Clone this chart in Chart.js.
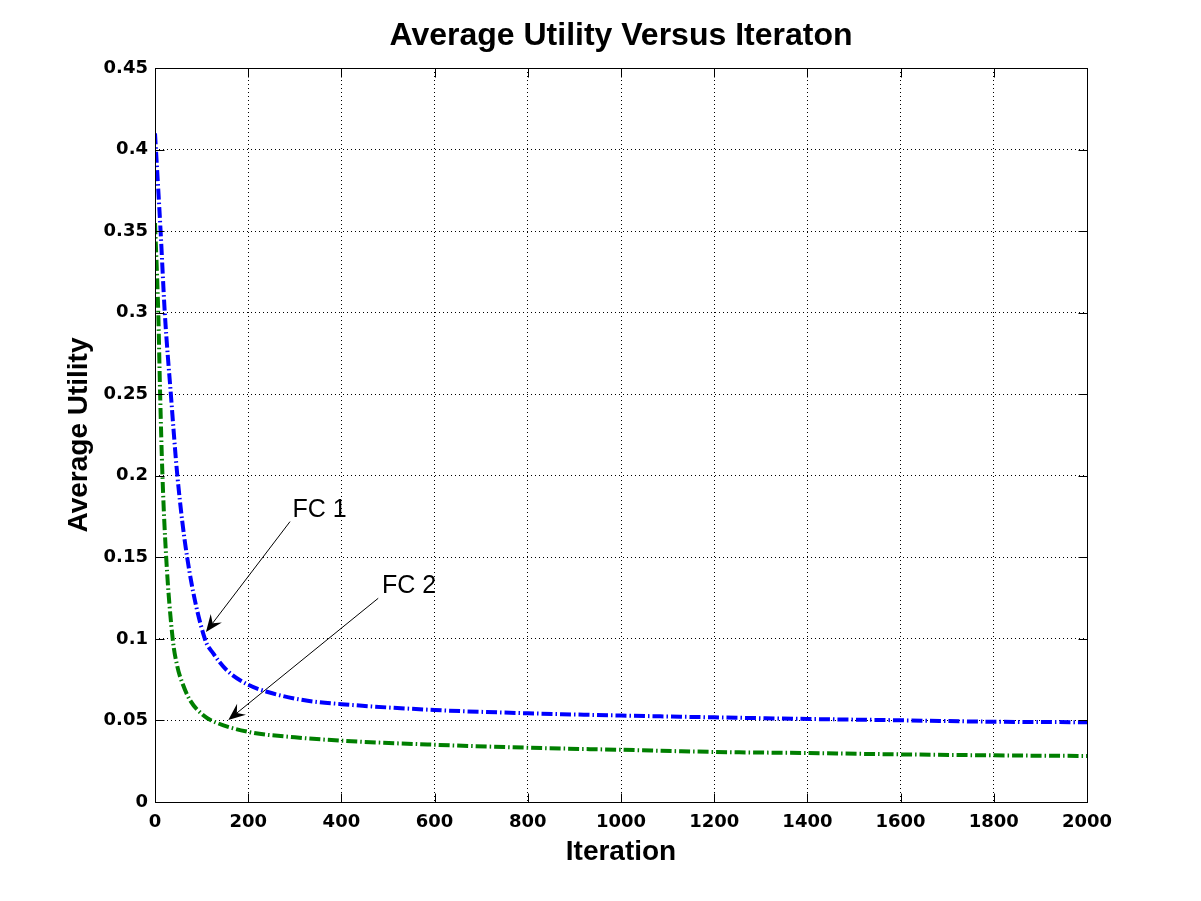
<!DOCTYPE html>
<html>
<head>
<meta charset="utf-8">
<script src="https://cdn.jsdelivr.net/npm/chart.js@4.4.1/dist/chart.umd.min.js"></script>
<style>
  html, body { margin: 0; padding: 0; background: #fff; }
  #wrap { width: 1201px; height: 901px; }
</style>
</head>
<body>
<div id="wrap"><canvas id="graph_ID" width="1201" height="901"></canvas></div>
<script>
// values
var iterFC1 = [0, 12, 21, 34, 48, 69, 107, 125, 155, 197, 240, 318, 400, 600, 800, 1000, 1200, 1400, 1600, 1800, 2000];
var utilFC1 = [0.41, 0.35, 0.30, 0.25, 0.20, 0.15, 0.10, 0.0911, 0.0805, 0.0723, 0.0676, 0.0625, 0.060, 0.0564, 0.0544, 0.053, 0.0519, 0.0509, 0.0501, 0.0492, 0.0489];

var iterFC2 = [0, 7, 11, 16, 24, 38, 48, 59, 75, 103, 121, 200, 300, 400, 600, 800, 1000, 1200, 1400, 1600, 1800, 2000];
var utilFC2 = [0.355, 0.30, 0.25, 0.20, 0.15, 0.10, 0.083, 0.0727, 0.0625, 0.0533, 0.05, 0.043, 0.0397, 0.0376, 0.0351, 0.0333, 0.032, 0.0307, 0.0300, 0.0292, 0.0286, 0.0282];

var xTicks = [0, 200, 400, 600, 800, 1000, 1200, 1400, 1600, 1800, 2000];
var yTicks = [0, 0.05, 0.1, 0.15, 0.2, 0.25, 0.3, 0.35, 0.4, 0.45];

// text labels with arrows, in data units
var notes = [
  { text: 'FC 1', tx: 295, ty: 0.1747, fromX: 289.7, fromY: 0.1719, toX: 109.4, toY: 0.1043 },
  { text: 'FC 2', tx: 487, ty: 0.1281, fromX: 479, fromY: 0.1249, toX: 157.3, toY: 0.0503 }
];

function toPoints(xs, ys) {
  var pts = [];
  for (var i = 0; i < xs.length; i++) pts.push({ x: xs[i], y: ys[i] });
  return pts;
}

function getSerie(label, xs, ys, color) {
  return {
    label: label,
    data: toPoints(xs, ys),
    borderColor: color,
    backgroundColor: color,
    borderWidth: 4,
    borderDash: [11, 3, 1.5, 3],
    borderCapStyle: 'butt',
    pointRadius: 0,
    cubicInterpolationMode: 'monotone',
    fill: false
  };
}

var tickFont = { family: '"DejaVu Sans", sans-serif', size: 18, weight: 'bold' };
var labelFont = { family: '"Liberation Sans", Arial, sans-serif', size: 28, weight: 'bold' };

// box round the plot, with inward ticks on all four sides
var frame = {
  id: 'frame',
  afterDraw: function (chart) {
    var ctx = chart.ctx, a = chart.chartArea;
    var sx = chart.scales.x, sy = chart.scales.y;
    var L = Math.round(a.left) + 0.5, R = Math.round(a.right) + 0.5;
    var T = Math.round(a.top) + 0.5, B = Math.round(a.bottom) + 0.5;
    var len = 9;
    ctx.save();
    ctx.strokeStyle = '#000';
    ctx.lineWidth = 1;
    ctx.setLineDash([]);
    ctx.strokeRect(L, T, R - L, B - T);
    ctx.beginPath();
    xTicks.forEach(function (v) {
      var px = Math.round(sx.getPixelForValue(v)) + 0.5;
      ctx.moveTo(px, B); ctx.lineTo(px, B - len);
      ctx.moveTo(px, T); ctx.lineTo(px, T + len);
    });
    yTicks.forEach(function (v) {
      var py = Math.round(sy.getPixelForValue(v)) + 0.5;
      ctx.moveTo(L, py); ctx.lineTo(L + len, py);
      ctx.moveTo(R, py); ctx.lineTo(R - len, py);
    });
    ctx.stroke();
    ctx.restore();
  }
};

// FC 1 / FC 2 text with arrows
var arrows = {
  id: 'arrows',
  afterDraw: function (chart) {
    var ctx = chart.ctx;
    var sx = chart.scales.x, sy = chart.scales.y;
    ctx.save();
    ctx.fillStyle = '#000';
    ctx.strokeStyle = '#000';
    ctx.lineWidth = 1;
    ctx.font = '25px "Liberation Sans", Arial, sans-serif';
    ctx.textBaseline = 'alphabetic';
    ctx.textAlign = 'left';
    notes.forEach(function (n) {
      ctx.fillText(n.text, sx.getPixelForValue(n.tx), sy.getPixelForValue(n.ty));
      var x1 = sx.getPixelForValue(n.fromX), y1 = sy.getPixelForValue(n.fromY);
      var x2 = sx.getPixelForValue(n.toX), y2 = sy.getPixelForValue(n.toY);
      var ang = Math.atan2(y2 - y1, x2 - x1);
      var ux = Math.cos(ang), uy = Math.sin(ang);
      var headLen = 17, headW = 7, back = 11;
      ctx.beginPath();
      ctx.moveTo(x1, y1);
      ctx.lineTo(x2 - ux * back, y2 - uy * back);
      ctx.stroke();
      ctx.beginPath();
      ctx.moveTo(x2, y2);
      ctx.lineTo(x2 - ux * headLen - uy * headW, y2 - uy * headLen + ux * headW);
      ctx.lineTo(x2 - ux * back, y2 - uy * back);
      ctx.lineTo(x2 - ux * headLen + uy * headW, y2 - uy * headLen - ux * headW);
      ctx.closePath();
      ctx.fill();
    });
    ctx.restore();
  }
};

var options = {
  responsive: false,
  animation: false,
  layout: { padding: { top: 0, right: 114, bottom: 0, left: 0 } },
  scales: {
    x: {
      type: 'linear',
      min: 0,
      max: 2000,
      afterFit: function (s) { s.height = 99; },
      afterBuildTicks: function (s) { s.ticks = xTicks.map(function (v) { return { value: v }; }); },
      ticks: { color: '#000', font: tickFont, padding: 10, maxRotation: 0, autoSkip: false,
        callback: function (v) { return String(v); } },
      grid: { color: '#000', lineWidth: 1, drawTicks: false },
      border: { display: false, dash: [1, 3] },
      title: { display: true, text: 'Iteration', color: '#000', font: labelFont, padding: { top: 0, bottom: 32 } }
    },
    y: {
      type: 'linear',
      min: 0,
      max: 0.45,
      afterFit: function (s) { s.width = 155; },
      afterBuildTicks: function (s) { s.ticks = yTicks.map(function (v) { return { value: v }; }); },
      ticks: { color: '#000', font: tickFont, padding: 7, autoSkip: false,
        callback: function (v) { return String(+v.toFixed(2)); } },
      grid: { color: '#000', lineWidth: 1, drawTicks: false },
      border: { display: false, dash: [1, 3] },
      title: { display: true, text: 'Average Utility', color: '#000', font: labelFont, padding: { top: 62, bottom: 0 } }
    }
  },
  plugins: {
    legend: { display: false },
    tooltip: { enabled: false },
    title: {
      display: true,
      fullSize: false,
      text: 'Average Utility Versus Iteraton',
      color: '#000',
      font: { family: '"Liberation Sans", Arial, sans-serif', size: 32, weight: 'bold' },
      padding: { top: 17, bottom: 12.6 }
    }
  }
};

var graphique = new Chart(document.getElementById('graph_ID').getContext('2d'), {
  type: 'line',
  data: {
    datasets: [
      getSerie('FC 1', iterFC1, utilFC1, '#0000FF'),
      getSerie('FC 2', iterFC2, utilFC2, '#007F00')
    ]
  },
  options: options,
  plugins: [frame, arrows]
});
</script>
</body>
</html>
